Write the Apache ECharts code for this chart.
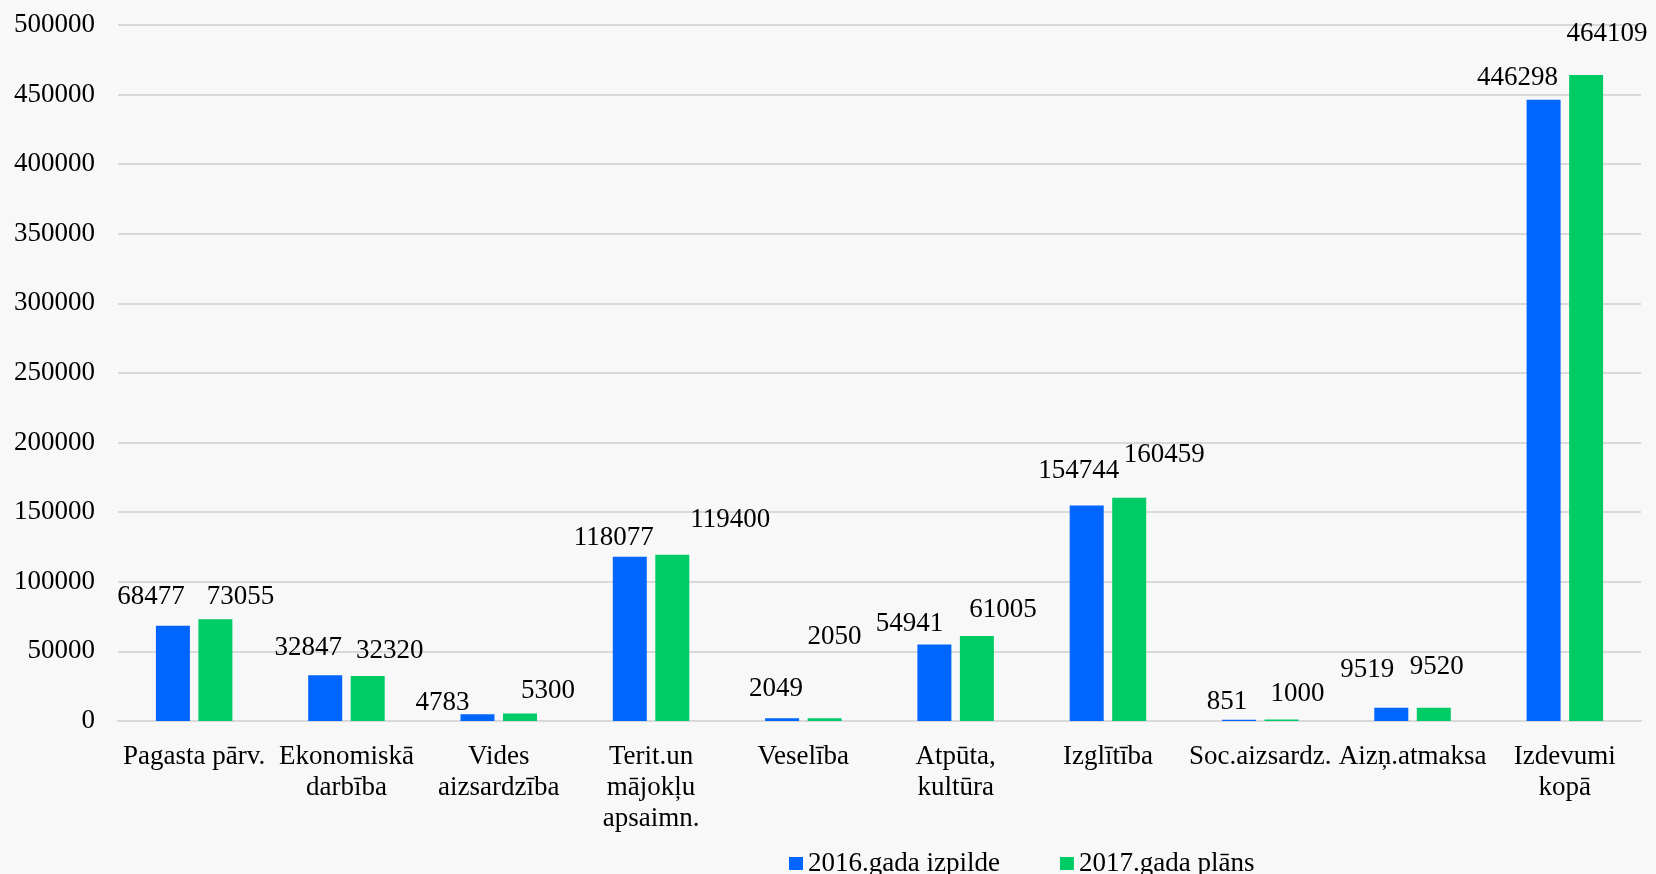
<!DOCTYPE html>
<html>
<head>
<meta charset="utf-8">
<script src="https://cdn.jsdelivr.net/npm/echarts@6/dist/echarts.min.js"></script>
<style>
html,body{margin:0;padding:0;background:#f8f8f8;}
#chart{width:1656px;height:874px;}
</style>
</head>
<body>
<div id="chart"></div>
<script>
const categories = ["Pagasta pārv.", "Ekonomiskā\ndarbība", "Vides\naizsardzība", "Terit.un\nmājokļu\napsaimn.", "Veselība", "Atpūta,\nkultūra", "Izglītība", "Soc.aizsardz.", "Aizņ.atmaksa", "Izdevumi\nkopā"];
const seriesNames = ["2016.gada izpilde", "2017.gada plāns"];
const values2016 = [68477, 32847, 4783, 118077, 2049, 54941, 154744, 851, 9519, 446298];
const values2017 = [73055, 32320, 5300, 119400, 2050, 61005, 160459, 1000, 9520, 464109];
const yTicks = [0, 50000, 100000, 150000, 200000, 250000, 300000, 350000, 400000, 450000, 500000];

// label nudges (styling only) [dx, dy] in px
const nudge2016 = [[-22,-15],[-17,-13],[-35,3],[-16,-5],[-6,-15],[-25,-7],[-8,-21],[-12,-4],[-24,-24],[-26,-8]];
const nudge2017 = [[25,-8],[22,-11],[28,-9],[58,-21],[10,-67],[26,-12],[35,-29],[16,-12],[3,-27],[21,-27]];

const FONT = '"Liberation Serif", "Times New Roman", serif';

function build(values, nudges) {
  return values.map((v, i) => ({
    value: v,
    label: { offset: nudges[i] }
  }));
}

const chart = echarts.init(document.getElementById('chart'), null, {renderer: 'canvas'});
const labelStyle = {
  show: true,
  position: 'top',
  distance: 0,
  color: '#000',
  fontFamily: FONT,
  fontSize: 27,
  lineHeight: 28
};
chart.setOption({
  backgroundColor: '#f8f8f8',
  animation: false,
  textStyle: { fontFamily: FONT },
  grid: { left: 118, right: 15, top: 25, bottom: 153, containLabel: false },
  legend: {
    left: 784,
    top: 845,
    itemWidth: 14,
    itemHeight: 13,
    itemGap: 60,
    icon: 'rect',
    textStyle: { color: '#000', fontFamily: FONT, fontSize: 27 },
    data: seriesNames
  },
  xAxis: {
    type: 'category',
    data: categories,
    axisTick: { show: false },
    axisLine: { show: true, lineStyle: { color: '#d9d9d9', width: 2 } },
    axisLabel: { color: '#000', fontFamily: FONT, fontSize: 27, lineHeight: 31, margin: 20, interval: 0 }
  },
  yAxis: {
    type: 'value',
    min: yTicks[0],
    max: yTicks[yTicks.length - 1],
    interval: yTicks[1] - yTicks[0],
    axisLine: { show: false },
    axisTick: { show: false },
    splitLine: { lineStyle: { color: '#d9d9d9', width: 2 } },
    axisLabel: { color: '#000', fontFamily: FONT, fontSize: 27, margin: 23, formatter: v => String(v) }
  },
  series: [
    {
      name: seriesNames[0],
      type: 'bar',
      data: build(values2016, nudge2016),
      barWidth: 34,
      barGap: '25%',
      itemStyle: { color: '#0066ff' },
      label: labelStyle
    },
    {
      name: seriesNames[1],
      type: 'bar',
      data: build(values2017, nudge2017),
      barWidth: 34,
      barGap: '25%',
      itemStyle: { color: '#00cc66' },
      label: labelStyle
    }
  ]
});
</script>
</body>
</html>
